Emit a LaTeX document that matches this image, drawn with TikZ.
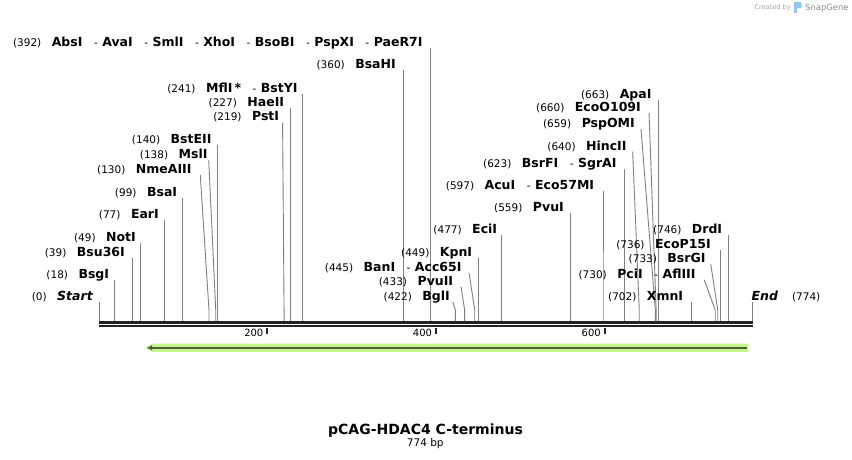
\documentclass[tikz,border=0pt]{standalone}
\usepackage{fontspec}
\setmainfont{DejaVu Sans}
\usetikzlibrary{positioning,arrows.meta}
\definecolor{sitegray}{RGB}{128,128,128}
\definecolor{bbone}{RGB}{34,34,34}
\definecolor{featlight}{RGB}{200,245,140}
\definecolor{featdark}{RGB}{78,98,58}
\definecolor{logoblue}{RGB}{140,200,240}
\newcommand{\enz}[1]{{\bfseries\fontsize{12.5pt}{12pt}\selectfont #1}}
\newcommand{\dsh}{{\mdseries\fontsize{10.5pt}{12pt}\selectfont\hspace{11.5pt}-\hspace{4.5pt}}}

\begin{document}
\begin{tikzpicture}[x=1pt,y=-1pt,font=\fontsize{10.5pt}{12pt}\selectfont,
cutline/.style={draw=sitegray,line width=0.9pt},
cutlabel/.style={anchor=base east,inner sep=0pt},
ticklabel/.style={anchor=base east,inner sep=0pt,font=\fontsize{10pt}{12pt}\selectfont}]
 \useasboundingbox[fill=white] (0,0) rectangle (852,460);

 % backbone
 \coordinate (bbL) at (98.5,322.7);
 \coordinate (bbR) at (752.8,322.7);
 \draw[bbone,line width=3.3pt] (bbL) -- (bbR);
 \draw[bbone,line width=2pt] ([yshift=-3.6pt]bbL) -- ([yshift=-3.6pt]bbR);

 \foreach \t in {200,400,600}
 {\coordinate (k\t) at ({98.3+\t*0.8437},328.3);
 \draw[bbone,line width=2pt] (k\t) -- ++(0,6);
 \node[ticklabel] (kl\t) at ([xshift=-3.5pt,yshift=-8.4pt]k\t) {\t};}

 % cut sites: bp / shift of top / top / label end / name
 \foreach \p/\dx/\ty/\ex/\txt in {0/0/302/93/{\itshape Start},
 18/0/280/109.3/BsgI, 39/0/258/125/Bsu36I, 49/0/243/136/NotI,
 77/0/220/159/EarI, 99/0/198/177.3/BsaI, 130/-8.7/175/191.7/NmeAIII,
 138/-7/160/207.7/MslI, 140/0/145/211.7/BstEII, 219/-1.5/122.7/279.3/PstI,
 227/0/108/284.3/HaeII, 241/0/94/297.7/{MflI\,*\dsh BstYI},
 360/0/70/396/BsaHI,
 392/0/48.3/422.7/{AbsI\dsh AvaI\dsh SmlI\dsh XhoI\dsh BsoBI\dsh PspXI\dsh PaeR7I},
 422/-2.6/301.7/450/BglI, 433/-3.6/286.7/453.3/PvuII,
 445/-5.7/273/461.7/{BanI\dsh Acc65I}, 449/0/258/472.3/KpnI,
 477/0/235/497.3/EciI, 559/0/212.7/564/PvuI,
 597/0/191/594.3/{AcuI\dsh Eco57MI}, 623/0/169/616.7/{BsrFI\dsh SgrAI},
 640/-6.6/151.7/626.7/HincII, 659/-14.3/129/635/PspOMI,
 660/-7.1/113/641/EcoO109I, 663/0/100/651.7/ApaI,
 702/0/301.7/683.3/XmnI, 730/-10.9/280/695.7/{PciI\dsh AflIII},
 733/-7/264/705.7/BsrGI, 736/0/250/711/EcoP15I, 746/0/235/722.3/DrdI}
 {\coordinate (s\p) at ({99.3+\p*0.8437},321);
 \coordinate (t\p) at ({99.3+\p*0.8437+\dx},\ty);
 \draw[cutline] (s\p) -- ++(0,-11) -- (t\p);
 \node[cutlabel] (n\p) at (\ex,\ty-1.7) {(\p)\hspace{10.5pt}\enz{\txt}};}

 \coordinate (s774) at (752.3,321);
 \coordinate (t774) at (752.3,301.7);
 \draw[cutline] (s774) -- (t774);
 \node[anchor=base west,inner sep=0pt] (n774) at (751.5,300)
 {\enz{\itshape End}\hspace{14pt}(774)};

 % feature arrow
 \coordinate (fR) at (748.3,347.8);
 \coordinate (fL) at (145,347.8);
 \fill[featlight] ([yshift=4.3pt]fR) -- ([xshift=8pt,yshift=4.3pt]fL) -- (fL)
 -- ([xshift=8pt,yshift=-4.3pt]fL) -- ([yshift=-4.3pt]fR) -- cycle;
 \draw[featdark,line width=2.3pt,-{Latex[length=5pt,width=5.5pt]}]
 ([xshift=-1.6pt]fR) -- ([xshift=2pt]fL);

 \node[anchor=base,inner sep=0pt,font=\bfseries\fontsize{14pt}{16pt}\selectfont]
 (title) at (425.5,434) {pCAG-HDAC4 C-terminus};
 \node[anchor=base,inner sep=0pt,font=\fontsize{10.5pt}{12pt}\selectfont]
 (len) at (425.3,446.5) {774 bp};

 \node[anchor=base west,inner sep=0pt,text=black!35,font=\fontsize{6.6pt}{7pt}\selectfont]
 (cby) at (754.3,10) {Created by};
 \fill[logoblue] (794,1.8) rectangle (797,13);
 \fill[logoblue,rounded corners=1.5pt] (794,1.8) rectangle (801.5,8.5);
 \node[anchor=base west,inner sep=0pt,text=black!45,font=\fontsize{8.4pt}{9pt}\selectfont]
 (sg) at (805,11) {SnapGene};
\end{tikzpicture}
\end{document}
